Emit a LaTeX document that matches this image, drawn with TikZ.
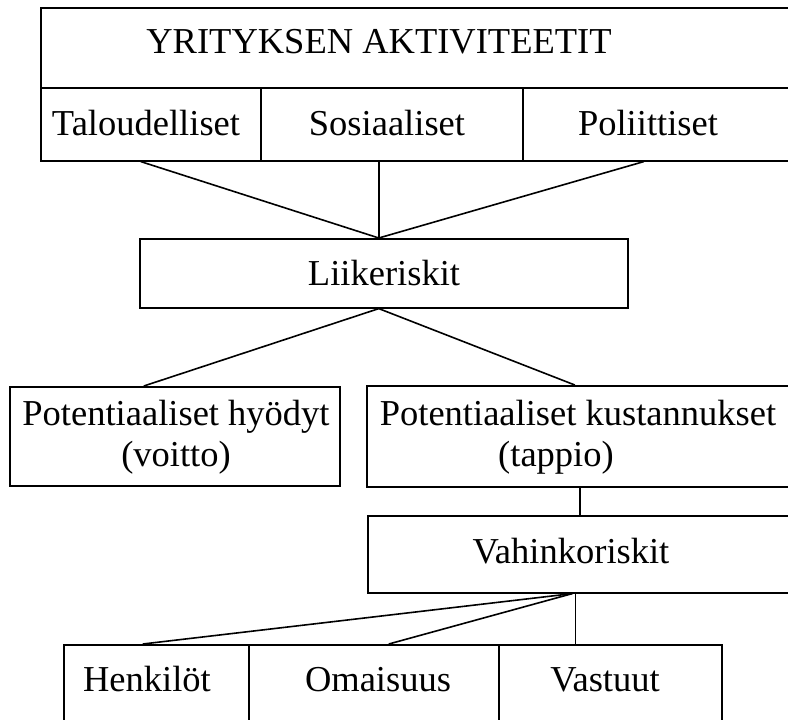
\documentclass[tikz,border=0pt]{standalone}
\usepackage{fontspec}
\setmainfont{Liberation Serif}
\usetikzlibrary{calc}
\begin{document}
\begin{tikzpicture}[x=1pt,y=-1pt,
  cell/.style={draw, rectangle, line width=1.6pt, inner sep=0pt, anchor=north west},
  lbl/.style={anchor=base, inner sep=0pt, font=\fontsize{36.5}{40}\selectfont},
  link/.style={line width=1.6pt}]
\useasboundingbox (0,0) rectangle (788,720);
\clip (0,0) rectangle (788,720);
\fill[white] (0,0) rectangle (788,720);

% header block: title row and three activity cells
\node[cell, minimum width=752pt, minimum height=80pt] (title) at (40,7) {};
\node[cell, minimum width=220pt, minimum height=73pt] (tal) at (40,87) {};
\node[cell, minimum width=262pt, minimum height=73pt] (sos) at (260,87) {};
\node[cell, minimum width=270pt, minimum height=73pt] (pol) at (522,87) {};
\node[lbl] (tTitle) at (379,53) {YRITYKSEN AKTIVITEETIT};
\node[lbl] (tTal) at (146,135) {Taloudelliset};
\node[lbl] (tSos) at (387,135) {Sosiaaliset};
\node[lbl] (tPol) at (648,135) {Poliittiset};

% business risks
\node[cell, minimum width=488pt, minimum height=69pt] (liike) at (139,238) {};
\node[lbl] (tLiike) at (384,285) {Liikeriskit};

% potential outcomes
\node[cell, minimum width=330pt, minimum height=99pt] (hyod) at (9,386) {};
\node[cell, minimum width=426pt, minimum height=101pt] (kust) at (366,385) {};
\node[lbl] (tHyod1) at (176,425) {Potentiaaliset hyödyt};
\node[lbl] (tHyod2) at (176,466) {(voitto)};
\node[lbl] (tKust1) at (578,425) {Potentiaaliset kustannukset};
\node[lbl] (tKust2) at (556,466) {(tappio)};

% damage risks
\node[cell, minimum width=425pt, minimum height=77pt] (vah) at (367,515) {};
\node[lbl] (tVah) at (571,563) {Vahinkoriskit};

% damage risk categories
\node[cell, minimum width=185pt, minimum height=90pt] (henk) at (63,644) {};
\node[cell, minimum width=250pt, minimum height=90pt] (omai) at (248,644) {};
\node[cell, minimum width=223pt, minimum height=90pt] (vast) at (498,644) {};
\node[lbl] (tHenk) at (147,691) {Henkilöt};
\node[lbl] (tOmai) at (378,691) {Omaisuus};
\node[lbl] (tVast) at (605,691) {Vastuut};

% connectors
\coordinate (liikeTop) at ([xshift=-5pt]liike.north);
\coordinate (liikeBot) at ([xshift=-5pt]liike.south);
\draw[link] ([xshift=-10pt]tal.south) -- (liikeTop);
\draw[link] (liikeTop |- sos.south) -- (liikeTop);
\draw[link] ([xshift=-14pt]pol.south) -- (liikeTop);
\draw[link] (liikeBot) -- ([xshift=-31pt]hyod.north);
\draw[link] (liikeBot) -- ([xshift=-5pt]kust.north);
\draw[link] (kust.south) -- (kust.south |- vah.north);
\coordinate (vahBot) at ([xshift=-8pt]vah.south);
\coordinate (vahStem) at ([xshift=-5pt]vah.south);
\draw[link] (vahBot) -- ([xshift=-13.5pt]henk.north);
\draw[link] (vahBot) -- ([xshift=15pt]omai.north);
\draw[link] (vahStem) -- (vahStem |- vast.north);
\end{tikzpicture}
\end{document}
